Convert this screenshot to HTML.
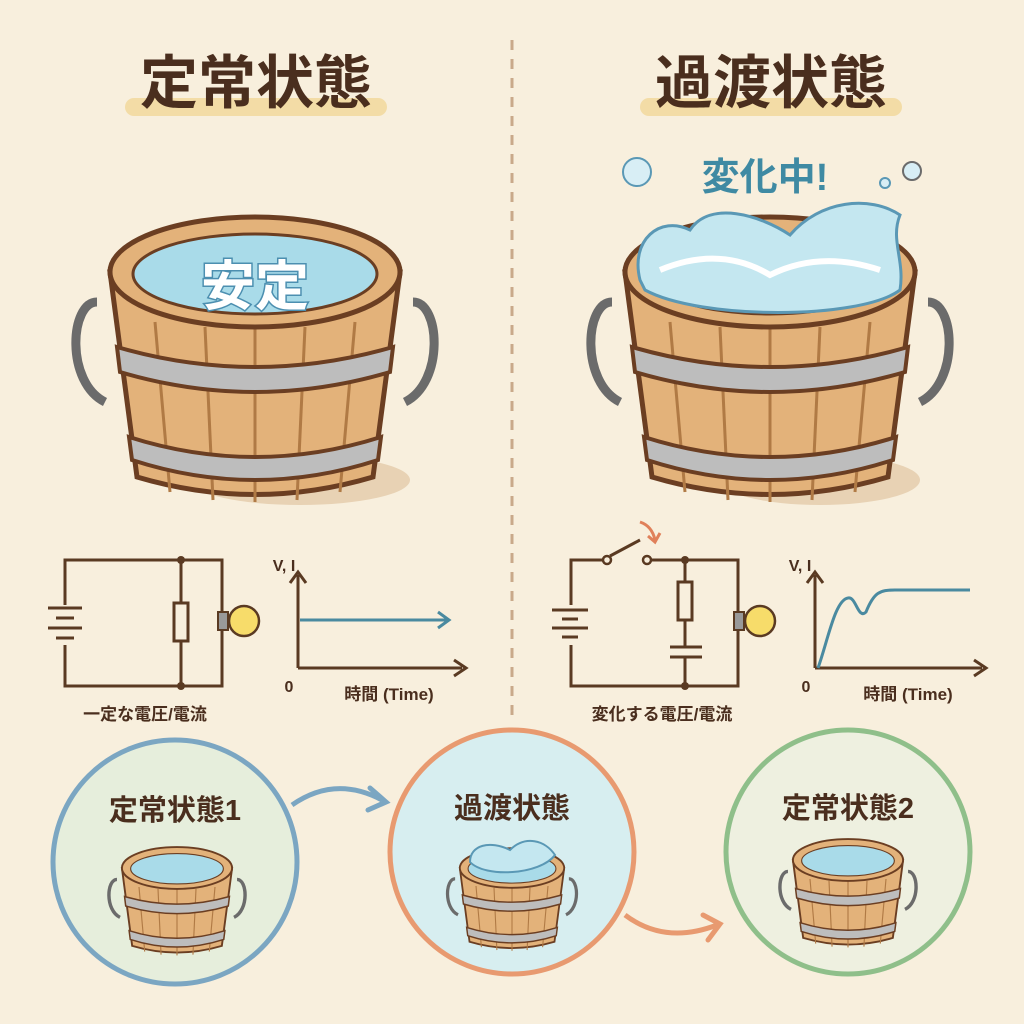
<!DOCTYPE html>
<html><head><meta charset="utf-8"><style>
html,body{margin:0;padding:0;background:#f8efdd;}
svg{display:block}
text{font-family:"Liberation Sans","Noto Sans CJK JP",sans-serif;font-weight:bold;}
</style></head><body>
<svg width="1024" height="1024" viewBox="0 0 1024 1024" xmlns="http://www.w3.org/2000/svg">
<defs>
<g id="bucket">
  <path d="M-158,30 C-185,30 -190,110 -150,130" fill="none" stroke="#6b6b6b" stroke-width="9"/>
  <path d="M158,30 C185,30 190,110 150,130" fill="none" stroke="#6b6b6b" stroke-width="9"/>
  <path d="M-145,0 L-118,205 Q0,240 118,205 L145,0 Z" fill="#e3b27a" stroke="#6b3e22" stroke-width="5"/>
  <g stroke="#b07a45" stroke-width="3">
    <line x1="-100" y1="50" x2="-85" y2="220"/><line x1="-50" y1="55" x2="-42" y2="228"/>
    <line x1="0" y1="55" x2="0" y2="230"/><line x1="50" y1="55" x2="42" y2="228"/>
    <line x1="100" y1="50" x2="85" y2="220"/>
  </g>
  <path d="M-138,75 Q0,115 138,75 L135,100 Q0,140 -135,100 Z" fill="#bdbdbd" stroke="#6b3e22" stroke-width="4"/>
  <path d="M-126,165 Q0,205 126,165 L123,188 Q0,228 -123,188 Z" fill="#bdbdbd" stroke="#6b3e22" stroke-width="4"/>
  <ellipse cx="0" cy="0" rx="145" ry="55" fill="#e3b27a" stroke="#6b3e22" stroke-width="5"/>
  <ellipse cx="0" cy="2" rx="122" ry="40" fill="#a9dbe9" stroke="#6b3e22" stroke-width="3"/>
</g>
</defs>
<rect width="1024" height="1024" fill="#f8efdd"/>
<line x1="512" y1="40" x2="512" y2="720" stroke="#c9a98a" stroke-width="3" stroke-dasharray="10,9"/>
<!-- titles -->
<rect x="125" y="98" width="262" height="18" rx="9" fill="#f3dca6"/>
<text x="256" y="103" font-size="58" fill="#4a2e1e" text-anchor="middle">定常状態</text>
<rect x="640" y="98" width="262" height="18" rx="9" fill="#f3dca6"/>
<text x="771" y="103" font-size="58" fill="#4a2e1e" text-anchor="middle">過渡状態</text>
<!-- left bucket -->
<ellipse cx="300" cy="480" rx="110" ry="25" fill="#e8d2b4"/>
<use href="#bucket" transform="translate(255,272)"/>
<text x="255" y="305" font-size="54" fill="#fff" stroke="#4c8fb0" stroke-width="3" paint-order="stroke" text-anchor="middle">安定</text>
<!-- right bucket -->
<ellipse cx="820" cy="480" rx="100" ry="25" fill="#e8d2b4"/>
<use href="#bucket" transform="translate(770,272)"/>
<path d="M640,280 C630,240 660,215 690,230 C710,200 760,215 790,235 C820,200 870,195 900,215 C890,240 905,260 900,290 C860,320 700,320 645,290 Z" fill="#c4e7f0" stroke="#5a98b5" stroke-width="3"/>
<path d="M660,270 Q720,245 770,275 Q820,250 880,270" fill="none" stroke="#fff" stroke-width="6"/>
<text x="765" y="190" font-size="38" fill="#3f8aa3" text-anchor="middle">変化中!</text>
<circle cx="637" cy="172" r="14" fill="#d8eef5" stroke="#5a98b5" stroke-width="2"/>
<circle cx="912" cy="171" r="9" fill="#d8eef5" stroke="#6b6b6b" stroke-width="2"/>
<circle cx="885" cy="183" r="5" fill="#d8eef5" stroke="#5a98b5" stroke-width="2"/>
<!-- left circuit -->
<g stroke="#5a3a22" stroke-width="3" fill="none">
 <rect x="65" y="560" width="157" height="126"/>
 <rect x="174" y="603" width="14" height="38" fill="#f8efdd"/>
 <line x1="181" y1="560" x2="181" y2="686"/>
</g>
<rect x="174" y="603" width="14" height="38" fill="#f8efdd" stroke="#5a3a22" stroke-width="3"/>
<rect x="55" y="605" width="22" height="40" fill="#f8efdd"/>
<g stroke="#5a3a22" stroke-width="3"><line x1="48" y1="608" x2="82" y2="608"/><line x1="56" y1="618" x2="74" y2="618"/><line x1="48" y1="628" x2="82" y2="628"/><line x1="56" y1="638" x2="74" y2="638"/></g>
<circle cx="181" cy="560" r="4" fill="#5a3a22"/><circle cx="181" cy="686" r="4" fill="#5a3a22"/>
<rect x="218" y="612" width="10" height="18" fill="#999" stroke="#5a3a22" stroke-width="2"/>
<circle cx="244" cy="621" r="15" fill="#f7dc6a" stroke="#5a3a22" stroke-width="2.5"/>
<text x="145" y="720" font-size="17" fill="#4a2e1e" text-anchor="middle">一定な電圧/電流</text>
<!-- left graph -->
<g stroke="#5a3a22" stroke-width="3" fill="none">
 <line x1="298" y1="668" x2="298" y2="575"/><path d="M290,583 L298,572 L306,583"/>
 <line x1="298" y1="668" x2="462" y2="668"/><path d="M454,660 L466,668 L454,676"/>
</g>
<g stroke="#4a8aa0" stroke-width="3" fill="none"><line x1="300" y1="620" x2="447" y2="620"/><path d="M438,612 L449,620 L438,628"/></g>
<text x="284" y="571" font-size="16" fill="#4a2e1e" text-anchor="middle">V, I</text>
<text x="289" y="692" font-size="16" fill="#4a2e1e" text-anchor="middle">0</text>
<text x="389" y="700" font-size="17" fill="#4a2e1e" text-anchor="middle">時間 (Time)</text>
<!-- right circuit -->
<g stroke="#5a3a22" stroke-width="3" fill="none">
 <path d="M603,560 L571,560 L571,686 L738,686 L738,560 L651,560"/>
 <line x1="685" y1="560" x2="685" y2="686"/>
 <line x1="610" y1="556" x2="640" y2="540"/>
</g>
<circle cx="607" cy="560" r="4" fill="#f8efdd" stroke="#5a3a22" stroke-width="2.5"/>
<circle cx="647" cy="560" r="4" fill="#f8efdd" stroke="#5a3a22" stroke-width="2.5"/>
<path d="M640,522 Q652,526 655,540 M648,536 L655,542 L660,533" fill="none" stroke="#e0805a" stroke-width="3"/>
<rect x="678" y="582" width="14" height="38" fill="#f8efdd" stroke="#5a3a22" stroke-width="3"/>
<rect x="670" y="647" width="32" height="10" fill="#f8efdd"/>
<g stroke="#5a3a22" stroke-width="3"><line x1="670" y1="647" x2="702" y2="647"/><line x1="670" y1="657" x2="702" y2="657"/></g>
<rect x="561" y="605" width="22" height="40" fill="#f8efdd"/>
<g stroke="#5a3a22" stroke-width="3"><line x1="552" y1="610" x2="588" y2="610"/><line x1="562" y1="619" x2="578" y2="619"/><line x1="552" y1="628" x2="588" y2="628"/><line x1="562" y1="637" x2="578" y2="637"/></g>
<circle cx="685" cy="560" r="4" fill="#5a3a22"/><circle cx="685" cy="686" r="4" fill="#5a3a22"/>
<rect x="734" y="612" width="10" height="18" fill="#999" stroke="#5a3a22" stroke-width="2"/>
<circle cx="760" cy="621" r="15" fill="#f7dc6a" stroke="#5a3a22" stroke-width="2.5"/>
<text x="662" y="720" font-size="17" fill="#4a2e1e" text-anchor="middle">変化する電圧/電流</text>
<!-- right graph -->
<g stroke="#5a3a22" stroke-width="3" fill="none">
 <line x1="815" y1="668" x2="815" y2="575"/><path d="M807,583 L815,572 L823,583"/>
 <line x1="815" y1="668" x2="982" y2="668"/><path d="M974,660 L986,668 L974,676"/>
</g>
<path d="M818,668 C828,640 835,600 848,598 C856,596 858,620 866,612 C874,592 880,590 895,590 L970,590" fill="none" stroke="#4a8aa0" stroke-width="3"/>
<text x="800" y="571" font-size="16" fill="#4a2e1e" text-anchor="middle">V, I</text>
<text x="806" y="692" font-size="16" fill="#4a2e1e" text-anchor="middle">0</text>
<text x="908" y="700" font-size="17" fill="#4a2e1e" text-anchor="middle">時間 (Time)</text>
<!-- bottom circles -->
<circle cx="175" cy="862" r="122" fill="#e6eedc" stroke="#7ba6c2" stroke-width="5"/>
<circle cx="512" cy="852" r="122" fill="#d7eef0" stroke="#e89a70" stroke-width="5"/>
<circle cx="848" cy="852" r="122" fill="#eef0e0" stroke="#8fbf8a" stroke-width="5"/>
<text x="175" y="820" font-size="29" fill="#4a2e1e" text-anchor="middle">定常状態1</text>
<text x="512" y="818" font-size="29" fill="#4a2e1e" text-anchor="middle">過渡状態</text>
<text x="848" y="818" font-size="29" fill="#4a2e1e" text-anchor="middle">定常状態2</text>
<use href="#bucket" transform="translate(177,868) scale(0.38)"/>
<use href="#bucket" transform="translate(512,868) scale(0.36)"/>
<path d="M470,862 C470,845 490,840 510,850 C525,835 545,840 555,855 C540,875 485,878 470,862Z" fill="#c4e7f0" stroke="#5a98b5" stroke-width="2"/>
<use href="#bucket" transform="translate(848,860) scale(0.38)"/>
<path d="M292,805 Q335,775 382,800" fill="none" stroke="#7ba6c2" stroke-width="5"/>
<path d="M370,788 L386,802 L368,810" fill="none" stroke="#7ba6c2" stroke-width="5" stroke-linecap="round"/>
<path d="M625,915 Q665,945 717,925" fill="none" stroke="#e89a70" stroke-width="5"/>
<path d="M703,915 L720,924 L708,940" fill="none" stroke="#e89a70" stroke-width="5" stroke-linecap="round"/>
</svg>
</body></html>
